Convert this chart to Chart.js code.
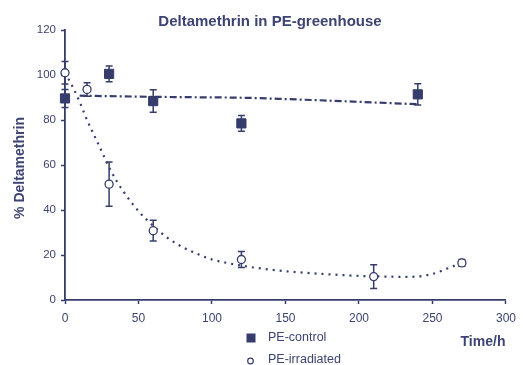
<!DOCTYPE html>
<html>
<head>
<meta charset="utf-8">
<script src="https://cdn.jsdelivr.net/npm/chart.js@4"></script>
<style>
  html, body { margin: 0; padding: 0; background: #fff; }
  #c { display: block; }
</style>
</head>
<body>
<canvas id="c" width="523" height="365"></canvas>
<script>
// values
const controlTime = [0, 30, 60, 120, 240];
const controlPct = [89.6, 100.5, 88.4, 78.5, 91.4];
const controlErr = [4, 3.5, 5, 3.5, 4.7];

const irradTime = [0, 15, 30, 60, 120, 210, 270];
const irradPct = [101, 93.6, 51.5, 30.8, 18, 10.4, 16.5];
const irradErr = [5, 3, 9.8, 4.6, 3.6, 5.3, 1.5];

// fitted curves as drawn in the figure
const controlFitTime = [10, 30, 60, 90, 120, 150, 180, 210, 240];
const controlFitPct = [90.8, 90.6, 90.3, 90.1, 89.9, 89.3, 88.6, 87.8, 87.0];

const irradFitTime = [0, 5, 10, 15, 20, 25, 30, 35, 40, 50, 60, 70, 80, 90, 100, 110, 120, 130, 150, 175, 205, 235, 250, 264, 270];
const irradFitPct = [101, 95, 88, 80, 73, 66, 59, 53, 48, 39.5, 33, 27.5, 23.5, 20.5, 18, 16.5, 15.3, 14.3, 12.8, 11.6, 10.6, 10.3, 11.6, 15, 16.5];

const xTicks = [0, 50, 100, 150, 200, 250, 300];
const yTicks = [0, 20, 40, 60, 80, 100, 120];

const navy = '#363c6c';
const textCol = '#3d4372';

function pts(xs, ys) {
  return xs.map((x, i) => ({ x: x, y: ys[i] }));
}

// error bars, drawn just before the marker dataset so the open circles cover them
const errorBars = {
  id: 'errorBars',
  beforeDatasetDraw(chart, args) {
    const ds = chart.data.datasets[args.index];
    if (!ds.errors) return;
    const ctx = chart.ctx;
    const xs = chart.scales.x, ys = chart.scales.y;
    ctx.save();
    ctx.strokeStyle = navy;
    ctx.lineWidth = 1.5;
    ds.data.forEach((p, i) => {
      const e = ds.errors[i];
      const px = xs.getPixelForValue(p.x);
      const top = ys.getPixelForValue(p.y + e);
      const bot = ys.getPixelForValue(p.y - e);
      ctx.beginPath();
      ctx.moveTo(px, top); ctx.lineTo(px, bot);
      ctx.moveTo(px - 3.5, top); ctx.lineTo(px + 3.5, top);
      ctx.moveTo(px - 3.5, bot); ctx.lineTo(px + 3.5, bot);
      ctx.stroke();
    });
    ctx.restore();
  }
};

// title, axis captions and the little legend under the axis
const decorations = {
  id: 'decorations',
  afterDraw(chart) {
    const ctx = chart.ctx;
    ctx.save();
    ctx.fillStyle = textCol;
    ctx.textBaseline = 'middle';

    ctx.font = 'bold 15px "Liberation Sans", Arial, sans-serif';
    ctx.textAlign = 'center';
    ctx.fillText('Deltamethrin in PE-greenhouse', 270, 22);

    ctx.font = 'bold 14px "Liberation Sans", Arial, sans-serif';
    ctx.fillText('Time/h', 483, 342);

    ctx.save();
    ctx.translate(20, 168);
    ctx.rotate(-Math.PI / 2);
    ctx.fillText('% Deltamethrin', 0, 0);
    ctx.restore();

    // legend
    ctx.fillStyle = navy;
    ctx.fillRect(246.5, 333.5, 9, 9);
    ctx.strokeStyle = navy;
    ctx.lineWidth = 1.2;
    ctx.beginPath();
    ctx.arc(250.5, 361, 2.8, 0, Math.PI * 2);
    ctx.stroke();

    ctx.fillStyle = textCol;
    ctx.textAlign = 'left';
    ctx.font = '12.5px "Liberation Sans", Arial, sans-serif';
    ctx.fillText('PE-control', 268, 338);
    ctx.fillText('PE-irradiated', 268, 360);
    ctx.restore();
  }
};

new Chart(document.getElementById('c'), {
  type: 'scatter',
  data: {
    datasets: [
      {
        label: 'PE-control fit',
        data: pts(controlFitTime, controlFitPct),
        showLine: true,
        borderColor: navy,
        borderWidth: 2.2,
        borderDash: [7, 3, 2, 3],
        pointRadius: 0,
        cubicInterpolationMode: 'monotone',
        clip: false,
        order: 4
      },
      {
        label: 'PE-irradiated fit',
        data: pts(irradFitTime, irradFitPct),
        showLine: true,
        borderColor: navy,
        borderWidth: 2.2,
        borderDash: [2, 5],
        pointRadius: 0,
        cubicInterpolationMode: 'monotone',
        clip: false,
        order: 3
      },
      {
        label: 'PE-control',
        data: pts(controlTime, controlPct),
        errors: controlErr,
        pointStyle: 'rect',
        pointRadius: 6.5,
        backgroundColor: navy,
        borderColor: navy,
        borderWidth: 1,
        clip: false,
        order: 2
      },
      {
        label: 'PE-irradiated',
        data: pts(irradTime, irradPct),
        errors: irradErr,
        pointStyle: 'circle',
        pointRadius: 4,
        backgroundColor: '#ffffff',
        borderColor: navy,
        borderWidth: 1.3,
        clip: false,
        order: 1
      }
    ]
  },
  options: {
    responsive: false,
    animation: false,
    layout: { padding: { top: 30, right: 9, left: 0, bottom: 0 } },
    plugins: {
      legend: { display: false },
      title: { display: false },
      tooltip: { enabled: false }
    },
    scales: {
      x: {
        type: 'linear',
        min: 0,
        max: 300,
        afterFit(scale) { scale.height = 65; },
        afterBuildTicks(scale) { scale.ticks = xTicks.map(v => ({ value: v })); },
        grid: { drawOnChartArea: false, drawTicks: true, tickLength: 4, tickColor: navy, tickWidth: 1.5 },
        border: { display: true, color: navy, width: 1.8 },
        ticks: { color: textCol, padding: 7, font: { family: '"Liberation Sans", Arial, sans-serif', size: 12 } }
      },
      y: {
        min: 0,
        max: 120,
        afterFit(scale) { scale.width = 65; },
        afterBuildTicks(scale) { scale.ticks = yTicks.map(v => ({ value: v })); },
        grid: { drawOnChartArea: false, drawTicks: true, tickLength: 4, tickColor: navy, tickWidth: 1.5 },
        border: { display: true, color: navy, width: 1.8 },
        ticks: { color: textCol, padding: 5, font: { family: '"Liberation Sans", Arial, sans-serif', size: 11.5 } }
      }
    }
  },
  plugins: [errorBars, decorations]
});
</script>
</body>
</html>
